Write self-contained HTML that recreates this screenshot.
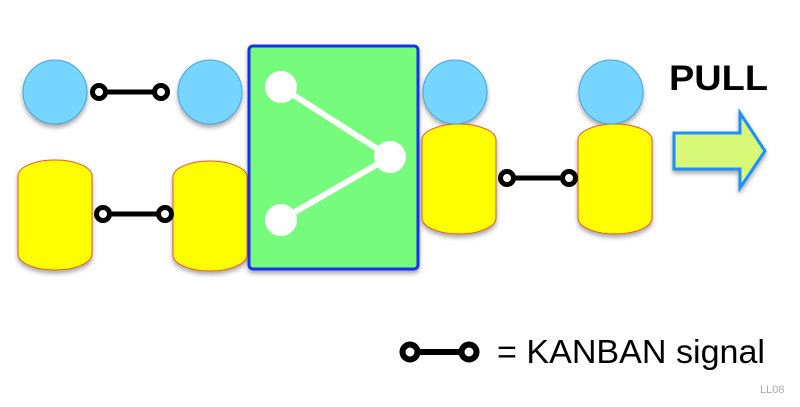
<!DOCTYPE html>
<html><head><meta charset="utf-8"><style>
html,body{margin:0;padding:0;background:#fff;}
svg{display:block;}
</style></head><body>
<svg width="800" height="407" viewBox="0 0 800 407" xmlns="http://www.w3.org/2000/svg">
<defs>
<filter id="sh" x="-20%" y="-20%" width="140%" height="150%"><feDropShadow dx="0" dy="3" stdDeviation="2.5" flood-color="#000" flood-opacity="0.35"/></filter>
<g id="cyl"><path d="M0,16 A37,16 0 0 1 74,16 L74,94 A37,16 0 0 1 0,94 Z" fill="#ffff00" stroke="#e05a2a" stroke-width="1"/></g>
<g id="kb"><line x1="0" y1="0" x2="62" y2="0" stroke="#000" stroke-width="5"/><circle cx="0" cy="0" r="6.5" fill="#fff" stroke="#000" stroke-width="5"/><circle cx="62" cy="0" r="6.5" fill="#fff" stroke="#000" stroke-width="5"/></g>
</defs>
<g filter="url(#sh)">
<circle cx="55" cy="92" r="32" fill="#76d6ff" stroke="#4aa0e0" stroke-width="1"/>
<circle cx="210" cy="92" r="32" fill="#76d6ff" stroke="#4aa0e0" stroke-width="1"/>
<use href="#cyl" x="18" y="160"/>
<use href="#cyl" x="173" y="161"/>
<rect x="249" y="46" width="169" height="223" rx="4" fill="#76fb7b" stroke="#1433f0" stroke-width="3"/>
<use href="#cyl" x="422" y="124"/>
<circle cx="455" cy="92" r="32" fill="#76d6ff" stroke="#4aa0e0" stroke-width="1"/>
<use href="#cyl" x="578" y="124"/>
<circle cx="611" cy="92" r="32" fill="#76d6ff" stroke="#4aa0e0" stroke-width="1"/>
<path d="M674,133 L740,133 L740,113 L765,151 L740,188 L740,169 L674,169 Z" fill="#d8f878" stroke="#1e90ff" stroke-width="3" stroke-linejoin="miter"/>
</g>
<g stroke="#fff" stroke-width="6" fill="#fff">
<line x1="281" y1="87" x2="390" y2="157"/><line x1="281" y1="220" x2="390" y2="157"/>
<circle cx="281" cy="87" r="13"/><circle cx="390" cy="157" r="13"/><circle cx="281" cy="220" r="13"/>
</g>
<use href="#kb" x="99" y="92"/>
<use href="#kb" x="103" y="214"/>
<use href="#kb" x="507" y="178"/>
<text x="669" y="90" font-family="Liberation Sans, sans-serif" font-weight="bold" font-size="35" textLength="99" lengthAdjust="spacingAndGlyphs">PULL</text>
<g transform="translate(410,352)">
<line x1="0" y1="0" x2="59" y2="0" stroke="#000" stroke-width="6"/><circle cx="0" cy="0" r="7.5" fill="#fff" stroke="#000" stroke-width="6"/><circle cx="59" cy="0" r="7.5" fill="#fff" stroke="#000" stroke-width="6"/>
</g>
<text x="497" y="363" font-family="Liberation Sans, sans-serif" font-size="33" textLength="268" lengthAdjust="spacingAndGlyphs">= KANBAN signal</text>
<text x="760" y="393" font-family="Liberation Sans, sans-serif" font-size="11" fill="#aaa">LL08</text>
</svg>
</body></html>
